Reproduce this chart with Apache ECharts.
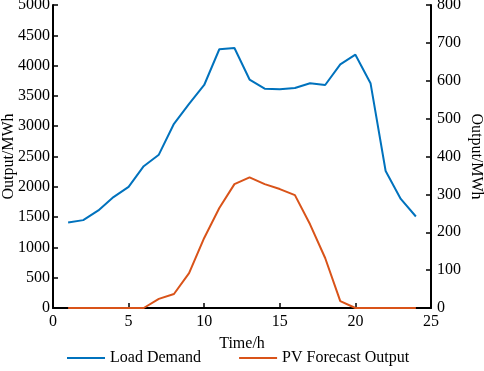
<!DOCTYPE html>
<html>
<head>
<meta charset="utf-8">
<script src="https://cdn.jsdelivr.net/npm/echarts@6/dist/echarts.min.js"></script>
<style>
html, body { margin: 0; padding: 0; background: #fff; }
#main { width: 484px; height: 371px; }
</style>
</head>
<body>
<div id="main"></div>
<script>
const hours = [1, 2, 3, 4, 5, 6, 7, 8, 9, 10, 11, 12, 13, 14, 15, 16, 17, 18, 19, 20, 21, 22, 23, 24]
const loadDemand = [1410, 1450, 1610, 1830, 2000, 2340, 2530, 3040, 3370, 3680, 4270, 4290, 3770, 3620, 3610, 3630, 3710, 3680, 4020, 4180, 3710, 2260, 1800, 1510]
const pvOutput = [0, 0, 0, 0, 0, 0, 24, 37, 92, 185, 264, 327, 345, 327, 314, 298, 221, 132, 18, 0, 0, 0, 0, 0]

const font = 'Liberation Serif'
const txt = { color: '#000', fontFamily: font, fontSize: 16 }
const axisLine = { show: true, lineStyle: { color: '#000', width: 2 } }
const axisTick = { show: true, inside: true, length: 5, lineStyle: { color: '#000', width: 1.5 } }
const plain = v => String(v)

const myChart = echarts.init(document.getElementById('main'))
const option = {
  animation: false,
  grid: { left: 53, right: 53, top: 5, bottom: 63, containLabel: false, outerBoundsMode: 'none' },
  legend: {
    bottom: 0,
    left: 62,
    icon: 'rect',
    itemWidth: 38,
    itemHeight: 2,
    itemGap: 38,
    textStyle: txt,
    data: ['Load Demand', 'PV Forecast Output']
  },
  xAxis: {
    type: 'value',
    min: 0,
    max: 25,
    interval: 5,
    name: 'Time/h',
    nameLocation: 'middle',
    nameGap: 28,
    nameMoveOverlap: false,
    nameTextStyle: txt,
    axisLine: axisLine,
    axisTick: axisTick,
    axisLabel: Object.assign({ margin: 6, formatter: plain }, txt),
    splitLine: { show: false }
  },
  yAxis: [
    {
      type: 'value',
      min: 0,
      max: 5000,
      interval: 500,
      position: 'left',
      name: 'Output/MWh',
      nameLocation: 'middle',
      nameGap: 36,
      nameMoveOverlap: false,
      nameTextStyle: txt,
      axisLine: axisLine,
      axisTick: axisTick,
      axisLabel: Object.assign({ margin: 3, formatter: plain }, txt),
      splitLine: { show: false }
    },
    {
      type: 'value',
      min: 0,
      max: 800,
      interval: 100,
      position: 'right',
      name: 'Output/MWh',
      nameLocation: 'middle',
      nameGap: 37,
      nameRotate: -90,
      nameMoveOverlap: false,
      nameTextStyle: txt,
      axisLine: axisLine,
      axisTick: axisTick,
      axisLabel: Object.assign({ margin: 6, formatter: plain }, txt),
      splitLine: { show: false }
    }
  ],
  series: [
    {
      name: 'Load Demand',
      type: 'line',
      yAxisIndex: 0,
      data: hours.map((h, i) => [h, loadDemand[i]]),
      showSymbol: false,
      color: '#0072BD',
      lineStyle: { width: 2 }
    },
    {
      name: 'PV Forecast Output',
      type: 'line',
      yAxisIndex: 1,
      data: hours.map((h, i) => [h, pvOutput[i]]),
      showSymbol: false,
      color: '#D95319',
      lineStyle: { width: 2 }
    }
  ]
}
myChart.setOption(option)
</script>
</body>
</html>
